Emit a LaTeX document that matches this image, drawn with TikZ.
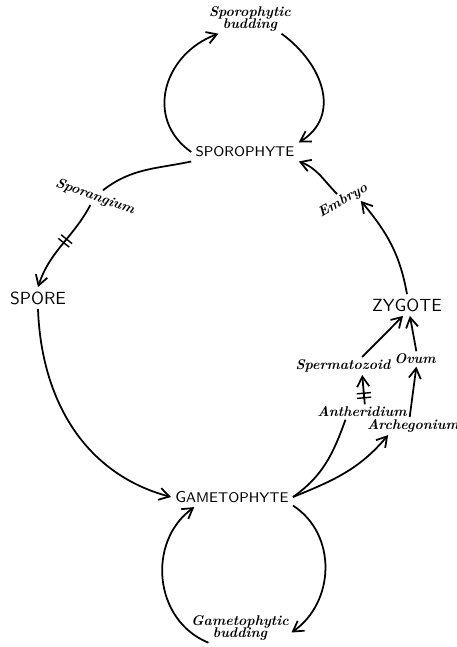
\documentclass[tikz,border=0pt]{standalone}
\usetikzlibrary{positioning,arrows.meta,decorations.markings}

\begin{document}
\begin{tikzpicture}[x=0.02cm,y=0.02cm,>={Straight Barb[length=2mm,width=2.4mm]},line width=1pt,
  stage/.style={font=\sffamily, inner sep=2pt},
  phase/.style={font=\sffamily\footnotesize, inner sep=2pt},
  part/.style={font=\bfseries\itshape\footnotesize, inner sep=1pt, align=center},
  reduction/.style={postaction={decorate},decoration={markings,mark=at position #1 with {\draw[line width=0.8pt,-] (-1.3pt,-4pt)--(-1.3pt,4pt) (1.3pt,-4pt)--(1.3pt,4pt);}}}]
\useasboundingbox (0,0) rectangle (457,647);

\node[phase] (spyte) at (245,495) {SPOROPHYTE};
\node[part] (spbud) at (250,628) {Sporophytic\\[-3pt]budding};
\node[part,rotate=-20] (sporang) at (95,450) {Sporangium};
\node[stage] (spore) at (38,349) {SPORE};
\node[phase] (gamete) at (232,150) {{\small G}AMETOPHYTE};
\node[part] (gmbud) at (240,19) {Gametophytic\\[-3pt]budding};
\node[part] (antherid) at (362,235) {Antheridium};
\node[part] (archeg) at (413,221) {Archegonium};
\node[part] (sperm) at (343,281) {Spermatozoid};
\node[part] (ovum) at (415,288) {Ovum};
\node[stage] (zygote) at (407,342) {ZYGOTE};
\node[part,rotate=30] (embryo) at (343,446) {Embryo};

% sporophyte budding loop
\draw[->] (spyte.west) .. controls +(145:58) and +(200:58) .. (spbud.205);
\draw[->] (spbud.-25) .. controls +(-36:51) and +(32:51) .. (spyte.10);

% round the cycle
\draw (spyte.190) to[out=192,in=38] (sporang.60);
\draw[->,reduction=0.45] (sporang.-100) to[out=242,in=72] (spore.north);
\draw[->] (spore.south) to[out=-88,in=165] (gamete.west);

% gametophyte budding loop
\draw[->] (gamete.-8) .. controls +(-33:53) and +(35:53) .. (gmbud.-5);
\draw[->] (gmbud.205) .. controls +(158:59) and +(216:59) .. (gamete.195);

% sexual organs
\draw (gamete.east) to[out=35,in=250] (antherid.205);
\draw[->] (gamete.east) to[out=22,in=230] (archeg.200);
\draw[->,reduction=0.3] (antherid.70) -- (sperm.-25);
\draw[->] (archeg.110) -- (ovum.-80);
\draw[->] (sperm.25) -- (zygote.-110);
\draw[->] (ovum.80) -- (zygote.-75);

% back to the sporophyte
\draw[->] (zygote.north) to[out=100,in=-50] (embryo.-30);
\draw[->] (embryo.100) to[out=135,in=-20] (spyte.-10);
\end{tikzpicture}
\end{document}
